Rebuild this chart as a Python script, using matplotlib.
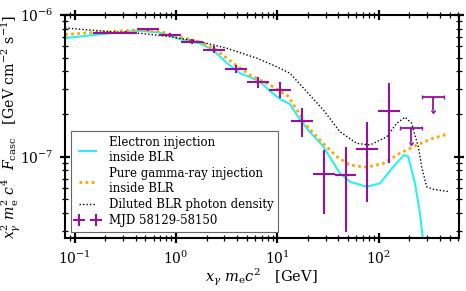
import numpy as np
import matplotlib
matplotlib.use("Agg")
import matplotlib.pyplot as plt

plt.rcParams['font.family'] = 'DejaVu Serif'
plt.rcParams['mathtext.fontset'] = 'dejavuserif'

# model curves (energy in GeV, flux in GeV cm^-2 s^-1)
elec_x = [0.0804, 0.1131, 0.2234, 0.4416, 0.6955, 1.095, 1.725, 2.317, 3.184, 4.278,
          5.367, 6.736, 8.453, 10.61, 13.31, 16.71, 20.97, 28.17, 41.44, 52.0,
          75.98, 102.8, 139.0, 177.2, 195.4, 227.5, 254.9, 271.0, 290.0]
elec_y = [6.88e-7, 7.05e-7, 7.43e-7, 7.75e-7, 7.50e-7, 6.74e-7, 6.31e-7, 5.66e-7, 4.58e-7, 3.88e-7,
          3.65e-7, 3.37e-7, 2.91e-7, 2.55e-7, 2.35e-7, 1.82e-7, 1.49e-7, 1.19e-7, 7.63e-8, 6.66e-8,
          6.14e-8, 6.49e-8, 8.50e-8, 1.028e-7, 1.00e-7, 6.49e-8, 3.99e-8, 2.72e-8, 1.8e-8]

gam_x = [0.0804, 0.178, 0.4416, 0.6955, 1.095, 1.725, 2.425, 3.649, 5.367, 8.453,
         12.72, 15.61, 19.58, 26.31, 33.02, 38.70, 52.0, 75.98, 110.8, 161.9,
         236.5, 344.8, 484.6]
gam_y = [7.29e-7, 7.59e-7, 7.83e-7, 7.65e-7, 6.99e-7, 6.45e-7, 5.76e-7, 4.58e-7, 3.77e-7, 3.21e-7,
         2.68e-7, 2.14e-7, 1.65e-7, 1.31e-7, 1.115e-7, 1.00e-7, 8.74e-8, 8.42e-8, 8.98e-8, 1.057e-7,
         1.21e-7, 1.35e-7, 1.45e-7]

blr_x = [0.0804, 0.2234, 0.4416, 0.873, 1.725, 3.184, 6.293, 9.469, 13.31, 19.45,
         28.36, 41.44, 60.54, 81.88, 119.7, 150.2, 181.3, 211.1, 227.5, 245.2,
         264.9, 296.8, 344.8, 503.7]
blr_y = [8.10e-7, 7.62e-7, 7.43e-7, 7.03e-7, 6.48e-7, 5.82e-7, 4.95e-7, 4.37e-7, 3.88e-7, 2.88e-7,
         2.14e-7, 1.50e-7, 1.243e-7, 1.21e-7, 1.38e-7, 1.72e-7, 1.90e-7, 1.72e-7, 1.42e-7, 1.18e-7,
         8.50e-8, 6.14e-8, 5.89e-8, 5.66e-8]

# Fermi-LAT points, MJD 58129-58150
pt_x = [0.195, 0.321, 0.530, 0.873, 1.44, 2.37, 3.91, 6.44, 10.6, 17.5, 28.6, 47.0, 77.3, 127.0]
pt_lo = [0.152, 0.250, 0.412, 0.680, 1.12, 1.85, 3.04, 5.01, 8.26, 13.6, 22.2, 36.6, 60.1, 98.9]
pt_hi = [0.250, 0.412, 0.680, 1.12, 1.85, 3.04, 5.01, 8.26, 13.6, 22.2, 36.6, 60.1, 98.9, 162.6]
pt_y = [7.50e-7, 7.50e-7, 7.92e-7, 7.23e-7, 6.48e-7, 5.66e-7, 4.14e-7, 3.38e-7, 2.96e-7, 1.80e-7,
        7.55e-8, 7.43e-8, 1.127e-7, 2.11e-7]
pt_ylo = [7.30e-7, 7.30e-7, 7.70e-7, 7.03e-7, 6.25e-7, 5.37e-7, 3.88e-7, 3.04e-7, 2.58e-7, 1.38e-7,
          3.94e-8, 2.96e-8, 4.77e-8, 9.08e-8]
pt_yhi = [7.70e-7, 7.70e-7, 8.14e-7, 7.43e-7, 6.75e-7, 6.04e-7, 4.44e-7, 3.67e-7, 3.38e-7, 2.21e-7,
          1.115e-7, 1.18e-7, 1.77e-7, 3.32e-7]

# upper limits
ul_x = [209.0, 344.0]
ul_lo = [162.6, 267.3]
ul_hi = [267.3, 439.5]
ul_y = [1.60e-7, 2.65e-7]

pt_x = np.array(pt_x)
pt_y = np.array(pt_y)
ul_x = np.array(ul_x)
ul_y = np.array(ul_y)

purple = '#99119a'

fig = plt.figure(figsize=(4.66, 2.91), dpi=100)
ax = fig.add_axes([0.1395, 0.1821, 0.8448, 0.7664])

ax.plot(elec_x, elec_y, color='#2af0f0', lw=1.5, label='Electron injection\ninside BLR')
ax.plot(gam_x, gam_y, color='orange', lw=2.0, ls=(0, (1, 1.2)), label='Pure gamma-ray injection\ninside BLR')
ax.plot(blr_x, blr_y, color='black', lw=1.0, ls=(0, (1, 1.5)), label='Diluted BLR photon density')

xerr = [pt_x - np.array(pt_lo), np.array(pt_hi) - pt_x]
yerr = [pt_y - np.array(pt_ylo), np.array(pt_yhi) - pt_y]
ax.errorbar(pt_x, pt_y, xerr=xerr, yerr=yerr, fmt='none', ecolor=purple, elinewidth=1.5,
            capsize=0, label='MJD 58129-58150')
ax.errorbar(ul_x, ul_y, xerr=[ul_x - np.array(ul_lo), np.array(ul_hi) - ul_x], yerr=0.2 * ul_y,
            uplims=True, fmt='none', ecolor=purple, elinewidth=1.3, capsize=1.2)

ax.set_xscale('log')
ax.set_yscale('log')
ax.set_xlim(0.0804, 614)
ax.set_ylim(2.67e-8, 1e-6)

ax.tick_params(which='both', direction='inout', top=True, right=True, labelsize=10)
ax.tick_params(which='major', length=7, width=1.6, pad=5)
ax.tick_params(which='minor', length=4, width=0.9)
for s in ax.spines.values():
    s.set_linewidth(1.5)

fig.text(261 / 466, 1 - 277 / 291, r'$x_\gamma\ m_\mathrm{e} c^2$   [GeV]', fontsize=10.5,
         ha='center', va='center')
fig.text(11 / 466, 1 - 127 / 291, r'$x_\gamma^2\ m_\mathrm{e}^2\ c^4\ \ F_\mathrm{casc}$   [GeV cm$^{-2}$ s$^{-1}$]',
         fontsize=10.2, rotation=90, ha='center', va='center')

leg = ax.legend(loc='lower left', bbox_to_anchor=(0.015, 0.028), borderaxespad=0, fontsize=8.5,
                numpoints=2, fancybox=False, framealpha=1, edgecolor='#666666', borderpad=0.4,
                labelspacing=0.25, handlelength=2.0, handletextpad=0.8)
leg.get_frame().set_linewidth(0.8)

fig.savefig('out.png', dpi=100)
